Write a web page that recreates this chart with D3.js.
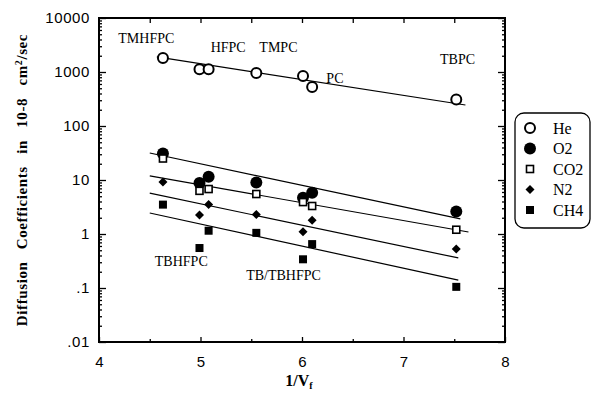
<!DOCTYPE html>
<html>
<head>
<meta charset="utf-8">
<script src="https://cdn.jsdelivr.net/npm/d3@7"></script>
<style>
  body { margin: 0; background: #fff; }
  svg { display: block; }
  .tick text { font-family: "Liberation Sans", Arial, sans-serif; font-size: 15px; fill: #000; }
  .lbl { font-family: "Liberation Serif", "Times New Roman", serif; font-size: 14px; fill: #000; }
  .leg { font-family: "Liberation Serif", "Times New Roman", serif; font-size: 16px; fill: #000; }
</style>
</head>
<body>
<div id="chart"></div>
<script>
// x positions (1/Vf) shared by every gas
const xs = [4.63, 4.99, 5.08, 5.55, 6.01, 6.10, 7.52];

const heVals  = [1820, 1120, 1120, 960, 840, 530, 310];
const o2Vals  = [31, 8.8, 11.5, 9.0, 4.7, 5.8, 2.6];
const co2Vals = [25, 6.3, 6.8, 5.5, 3.9, 3.3, 1.2];
const n2Vals  = [9.2, 2.25, 3.5, 2.3, 1.1, 1.8, 0.53];
const ch4Vals = [3.5, 0.55, 1.15, 1.05, 0.34, 0.65, 0.105];

// fitted lines: [x, value] end points
const heFit  = [[4.57, 1900], [7.61, 245]];
const o2Fit  = [[4.50, 31.6], [7.56, 1.9]];
const co2Fit = [[4.50, 11.9], [7.64, 1.09]];
const n2Fit  = [[4.50, 5.7], [7.54, 0.36]];
const ch4Fit = [[4.50, 2.45], [7.54, 0.14]];

const xTicks = [4, 5, 6, 7, 8];
const xHalfTicks = [4.5, 5.5, 6.5, 7.5];
const xTopTicks = [4.5, 5, 5.5, 6, 6.5, 7, 7.5];
const yTicks = [0.01, 0.1, 1, 10, 100, 1000, 10000];
const yTickLabels = ['.01', '.1', '1', '10', '100', '1000', '10000'];

const annotations = [
  { text: 'TMHFPC', x: 4.19, v: 3400 },
  { text: 'HFPC', x: 5.10, v: 2350 },
  { text: 'TMPC', x: 5.58, v: 2350 },
  { text: 'PC', x: 6.24, v: 620 },
  { text: 'TBPC', x: 7.36, v: 1380 },
  { text: 'TBHFPC', x: 4.55, v: 0.26 },
  { text: 'TB/TBHFPC', x: 5.45, v: 0.138 }
];

const series = [
  { name: 'He',  vals: heVals,  fit: heFit,  shape: 'openCircle' },
  { name: 'O2',  vals: o2Vals,  fit: o2Fit,  shape: 'filledCircle' },
  { name: 'CO2', vals: co2Vals, fit: co2Fit, shape: 'openSquare' },
  { name: 'N2',  vals: n2Vals,  fit: n2Fit,  shape: 'diamond' },
  { name: 'CH4', vals: ch4Vals, fit: ch4Fit, shape: 'filledSquare' }
];

const width = 592, height = 394;
const plotL = 99, plotR = 505, plotT = 18, plotB = 342;

const svg = d3.select('#chart').append('svg')
  .attr('width', width)
  .attr('height', height);

const x = d3.scaleLinear().domain([4, 8]).range([plotL, plotR]);
const y = d3.scaleLog().domain([0.01, 10000]).range([plotB, plotT]);

const minorY = [];
for (let e = -2; e < 4; e++) {
  for (let m = 2; m <= 9; m++) minorY.push(m * Math.pow(10, e));
}

// axes, ticks pointing inward
function styleAxis(g) {
  g.select('.domain').remove();
  g.selectAll('.tick line').attr('stroke', '#000').attr('stroke-width', 1.3);
}

svg.append('g')
  .attr('transform', `translate(${plotL},0)`)
  .call(d3.axisLeft(y).tickValues(yTicks).tickSize(-7).tickPadding(9)
    .tickFormat((d, i) => yTickLabels[i]))
  .call(styleAxis)
  .selectAll('text').attr('letter-spacing', '0.6px');

svg.append('g')
  .attr('transform', `translate(${plotL},0)`)
  .call(d3.axisLeft(y).tickValues(minorY).tickSize(-3).tickFormat(''))
  .call(styleAxis);

svg.append('g')
  .attr('transform', `translate(${plotR},0)`)
  .call(d3.axisRight(y).tickValues(yTicks).tickSize(-7).tickFormat(''))
  .call(styleAxis);

svg.append('g')
  .attr('transform', `translate(${plotR},0)`)
  .call(d3.axisRight(y).tickValues(minorY).tickSize(-3).tickFormat(''))
  .call(styleAxis);

svg.append('g')
  .attr('transform', `translate(0,${plotB})`)
  .call(d3.axisBottom(x).tickValues(xTicks).tickSize(-5).tickPadding(14)
    .tickFormat(d3.format('d')))
  .call(styleAxis);

svg.append('g')
  .attr('transform', `translate(0,${plotB})`)
  .call(d3.axisBottom(x).tickValues(xHalfTicks).tickSize(-3).tickFormat(''))
  .call(styleAxis);

svg.append('g')
  .attr('transform', `translate(0,${plotT})`)
  .call(d3.axisTop(x).tickValues(xTopTicks).tickSize(-5).tickFormat(''))
  .call(styleAxis);

// frame
svg.append('rect')
  .attr('x', plotL).attr('y', plotT)
  .attr('width', plotR - plotL).attr('height', plotB - plotT)
  .attr('fill', 'none').attr('stroke', '#000').attr('stroke-width', 2);

// fit lines
const line = d3.line().x(d => x(d[0])).y(d => y(d[1]));
svg.append('g').selectAll('path')
  .data(series)
  .join('path')
  .attr('d', s => line(s.fit))
  .attr('fill', 'none')
  .attr('stroke', '#000')
  .attr('stroke-width', 1.2);

function drawMarker(g, shape, cx, cy) {
  if (shape === 'openCircle') {
    g.append('circle').attr('cx', cx).attr('cy', cy).attr('r', 5)
      .attr('fill', '#fff').attr('stroke', '#000').attr('stroke-width', 2);
  } else if (shape === 'filledCircle') {
    g.append('circle').attr('cx', cx).attr('cy', cy).attr('r', 6).attr('fill', '#000');
  } else if (shape === 'openSquare') {
    g.append('rect').attr('x', cx - 3.5).attr('y', cy - 3.5).attr('width', 7).attr('height', 7)
      .attr('fill', '#fff').attr('stroke', '#000').attr('stroke-width', 1.6);
  } else if (shape === 'diamond') {
    g.append('path').attr('d', `M${cx},${cy - 4.5}L${cx + 4.5},${cy}L${cx},${cy + 4.5}L${cx - 4.5},${cy}Z`)
      .attr('fill', '#000');
  } else {
    g.append('rect').attr('x', cx - 4).attr('y', cy - 4).attr('width', 8).attr('height', 8)
      .attr('fill', '#000');
  }
}

const marks = svg.append('g');
series.forEach(s => {
  s.vals.forEach((v, i) => drawMarker(marks, s.shape, x(xs[i]), y(v)));
});

// point labels
svg.append('g').selectAll('text')
  .data(annotations)
  .join('text')
  .attr('class', 'lbl')
  .attr('x', d => x(d.x))
  .attr('y', d => y(d.v))
  .text(d => d.text);

// axis titles
svg.append('text')
  .attr('x', 299).attr('y', 386)
  .attr('text-anchor', 'middle')
  .style('font-family', '"Liberation Serif", "Times New Roman", serif')
  .style('font-weight', 'bold')
  .style('font-size', '16px')
  .html('1/V<tspan dy="3" font-size="10px">f</tspan>');

svg.append('text')
  .attr('transform', 'translate(27,180) rotate(-90)')
  .attr('text-anchor', 'middle')
  .style('font-family', '"Liberation Serif", "Times New Roman", serif')
  .style('font-weight', 'bold')
  .style('font-size', '15px')
  .attr('word-spacing', '8px')
  .attr('letter-spacing', '0.6px')
  .html('Diffusion Coefficients in 10-8 cm<tspan baseline-shift="super" font-size="10px">2</tspan>/sec');

// legend
const legend = svg.append('g');
legend.append('rect')
  .attr('x', 515).attr('y', 113)
  .attr('width', 75).attr('height', 115)
  .attr('rx', 9)
  .attr('fill', '#fff').attr('stroke', '#000').attr('stroke-width', 1.3);

const legY = d3.scalePoint().domain(series.map(s => s.name)).range([128, 210]);
series.forEach(s => {
  drawMarker(legend, s.shape, 530, legY(s.name));
  legend.append('text')
    .attr('class', 'leg')
    .attr('x', 553)
    .attr('y', legY(s.name) + 5.5)
    .text(s.name);
});
</script>
</body>
</html>
